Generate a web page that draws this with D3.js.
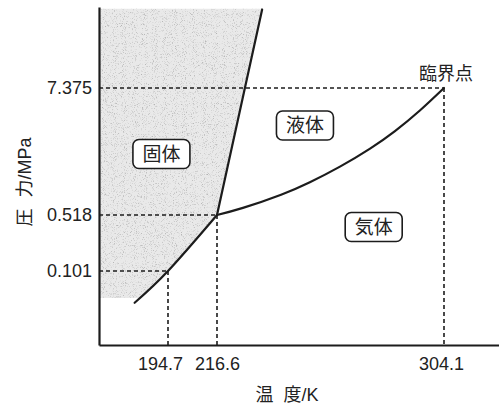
<!DOCTYPE html>
<html>
<head>
<meta charset="utf-8">
<script src="https://cdn.jsdelivr.net/npm/d3@7"></script>
<style>
  body { margin: 0; background: #fff; }
  svg { display: block; }
  text { font-family: "Liberation Sans", Arial, sans-serif; fill: #222; }
  .cjk { font-family: "Noto Sans CJK JP", sans-serif; }
</style>
</head>
<body>
<div id="container"></div>
<script>
// tick values on the two axes
var tempTicks = [194.7, 216.6, 304.1];
var pressTicks = [0.101, 0.518, 7.375];

// phase boundaries, [T (K), P (MPa)]
var sublimation = [[180.0, 0.040], [194.7, 0.101], [216.6, 0.518]];
var melting = [[216.6, 0.518], [234.0, 38.0]];
var vaporization = [[216.6, 0.518], [226.6, 0.601], [241.3, 0.792], [252.4, 1.028],
                    [264.0, 1.425], [275.6, 2.077], [285.2, 2.995], [294.8, 4.607],
                    [304.1, 7.375]];

// points that get dashed guide lines to the axes
var guidePoints = [[194.7, 0.101], [216.6, 0.518], [304.1, 7.375]];
var criticalPoint = [304.1, 7.375];

// grey solid region
var solidRegion = [[164.3, 38.5], [234.0, 38.5], [216.6, 0.518], [194.7, 0.101],
                   [182.2, 0.046], [164.3, 0.046]];

// region labels
var regionNames = ["固体", "液体", "気体"];
var regionAt = [[191.8, 1.855], [250.5, 3.367], [277.0, 0.365]];

var w = 499,
    h = 407;

var svg = d3.select("div#container")
  .append("svg")
  .attr("width", w)
  .attr("height", h);

// the chart is schematic, so both scales are piecewise
var x = d3.scaleLinear()
    .domain([164.3, 194.7, 216.6, 304.1, 325.3])
    .range([99, 168, 217, 444, 499]);

var y = d3.scaleLog()
    .domain([0.01165, 0.101, 0.518, 7.375, 40])
    .range([345, 271, 215, 88, 7]);

var ink = "#1c1c1c";

// speckle texture for the solid region
var defs = svg.append("defs");
var grain = defs.append("filter").attr("id", "grain");
grain.append("feTurbulence")
  .attr("type", "fractalNoise")
  .attr("baseFrequency", 1.1)
  .attr("numOctaves", 2)
  .attr("seed", 4)
  .attr("result", "noise");
grain.append("feColorMatrix")
  .attr("in", "noise")
  .attr("type", "matrix")
  .attr("values", "0 0 0 0 0.45  0 0 0 0 0.45  0 0 0 0 0.45  3.2 0 0 0 -1.75")
  .attr("result", "dots");
grain.append("feComposite")
  .attr("in", "dots")
  .attr("in2", "SourceGraphic")
  .attr("operator", "in");

var area = d3.line()
  .x(function(d) { return x(d[0]); })
  .y(function(d) { return y(d[1]); });

svg.append("path")
  .datum(solidRegion)
  .attr("d", area)
  .attr("fill", "#e9e9e9");

svg.append("path")
  .datum(solidRegion)
  .attr("d", area)
  .attr("fill", "#000")
  .attr("filter", "url(#grain)");

// dashed guides
var guides = svg.append("g")
  .attr("fill", "none")
  .attr("stroke", ink)
  .attr("stroke-width", 1.6)
  .attr("stroke-dasharray", "4,3");

guides.selectAll("line.h")
  .data(guidePoints)
  .enter().append("line")
  .attr("class", "h")
  .attr("x1", x.range()[0])
  .attr("x2", function(d) { return x(d[0]); })
  .attr("y1", function(d) { return y(d[1]); })
  .attr("y2", function(d) { return y(d[1]); });

guides.selectAll("line.v")
  .data(guidePoints)
  .enter().append("line")
  .attr("class", "v")
  .attr("x1", function(d) { return x(d[0]); })
  .attr("x2", function(d) { return x(d[0]); })
  .attr("y1", function(d) { return y(d[1]); })
  .attr("y2", y.range()[0]);

// phase boundaries
var line = d3.line()
  .x(function(d) { return x(d[0]); })
  .y(function(d) { return y(d[1]); })
  .curve(d3.curveNatural);

svg.selectAll("path.boundary")
  .data([sublimation, melting, vaporization])
  .enter().append("path")
  .attr("class", "boundary")
  .attr("d", line)
  .attr("fill", "none")
  .attr("stroke", ink)
  .attr("stroke-width", 2.2)
  .attr("stroke-linecap", "round");

// axes
var xAxis = svg.append("g")
  .attr("transform", "translate(0," + y.range()[0] + ")")
  .call(d3.axisBottom(x)
    .tickValues(tempTicks)
    .tickFormat(d3.format(".1f"))
    .tickSize(0)
    .tickPadding(12));

xAxis.selectAll("text")
  .attr("dx", function(d, i) { return i === 0 ? -8 : (i === 2 ? -3 : 0); });

var yAxis = svg.append("g")
  .attr("transform", "translate(" + x.range()[0] + ",0)")
  .call(d3.axisLeft(y)
    .tickValues(pressTicks)
    .tickFormat(d3.format(".3f"))
    .tickSize(0)
    .tickPadding(7));

svg.selectAll(".domain")
  .attr("stroke", ink)
  .attr("stroke-width", 2.2);

svg.selectAll(".tick text")
  .style("font-size", "18px");

// region labels in rounded boxes
var labels = svg.selectAll("g.region")
  .data(regionNames)
  .enter().append("g")
  .attr("class", "region")
  .attr("transform", function(d, i) {
    return "translate(" + x(regionAt[i][0]) + "," + y(regionAt[i][1]) + ")";
  });

labels.append("rect")
  .attr("x", -28.5)
  .attr("y", -14.5)
  .attr("width", 57)
  .attr("height", 29)
  .attr("rx", 6)
  .attr("fill", "#fff")
  .attr("stroke", ink)
  .attr("stroke-width", 1.6);

labels.append("text")
  .attr("class", "cjk")
  .attr("text-anchor", "middle")
  .attr("dy", "0.36em")
  .style("font-size", "19px")
  .text(function(d) { return d; });

// critical point label
svg.append("text")
  .attr("class", "cjk")
  .attr("x", x(criticalPoint[0]) + 2)
  .attr("y", y(criticalPoint[1]) - 8)
  .attr("text-anchor", "middle")
  .style("font-size", "18px")
  .text("臨界点");

// axis titles
var xTitle = svg.append("text")
  .attr("x", 287)
  .attr("y", 401)
  .attr("text-anchor", "middle")
  .style("font-size", "18px");
xTitle.append("tspan").attr("class", "cjk").text("温");
xTitle.append("tspan").attr("class", "cjk").attr("dx", 10).text("度");
xTitle.append("tspan").text("/K");

var yTitle = svg.append("text")
  .attr("transform", "translate(31,182) rotate(-90)")
  .attr("text-anchor", "middle")
  .style("font-size", "18px");
yTitle.append("tspan").attr("class", "cjk").text("圧");
yTitle.append("tspan").attr("class", "cjk").attr("dx", 11).text("力");
yTitle.append("tspan").text("/MPa");
</script>
</body>
</html>
